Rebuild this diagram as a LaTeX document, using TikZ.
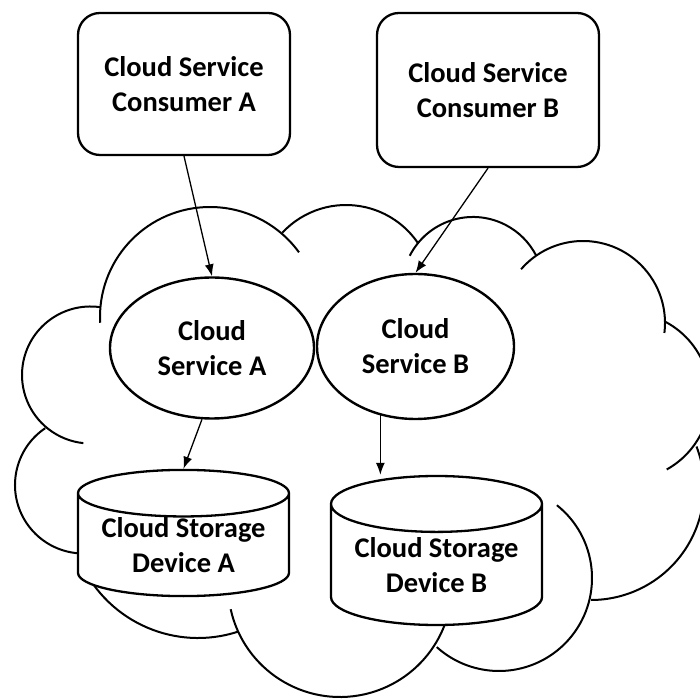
\documentclass[tikz,border=0pt]{standalone}
\usepackage{fontspec}
\setmainfont{Carlito}
\usepackage{tikz}
\usetikzlibrary{shapes.geometric,arrows.meta}
\tikzstyle{consumer} = [draw, fill=white, rectangle, rounded corners=22pt,
    line width=2.3pt, align=center, inner sep=0pt]
\tikzstyle{service} = [draw, fill=white, ellipse, line width=2.4pt,
    align=center, inner sep=0pt]
\tikzstyle{storage} = [draw, fill=white, cylinder, shape border rotate=90,
    line width=2.3pt, align=center, inner sep=0pt, anchor=shape center]
\tikzstyle{bump} = [line width=2pt]
\tikzstyle{link} = [line width=1.3pt, -{Latex[length=12pt,width=9pt]}]

\begin{document}
\begin{tikzpicture}[x=1pt, y=1pt, font=\fontsize{28.5}{35}\selectfont\bfseries]
    \useasboundingbox (0,0) rectangle (700,698);
    % The cloud is drawn first, one arc for each bump
    \draw [bump] (210,381) ++(183:110) arc [start angle=183, end angle=36, radius=110];
    \draw [bump] (346,406) ++(137:87) arc [start angle=137, end angle=34, radius=87];
    \draw [bump] (473,410) ++(153:71) arc [start angle=153, end angle=27, radius=71];
    \draw [bump] (583,375) ++(139:82) arc [start angle=139, end angle=-7, radius=82];
    \draw [bump] (626,302) ++(62:84) arc [start angle=62, end angle=-61, radius=84];
    \draw [bump] (591,211) ++(21:113) arc [start angle=21, end angle=-90, radius=113];
    \draw [bump] (499,120) ++(51.5:93) arc [start angle=51.5, end angle=-132, radius=93];
    \draw [bump] (340,113) ++(192.5:112) arc [start angle=192.5, end angle=345, radius=112];
    \draw [bump] (198,189) ++(205:129) arc [start angle=205, end angle=288, radius=129];
    \draw [bump] (83.5,213) ++(124:68.5) arc [start angle=124, end angle=275, radius=68.5];
    \draw [bump] (90.5,323) ++(82:68.5) arc [start angle=82, end angle=264, radius=68.5];
    % Then the blocks on top of it
    \node [consumer, minimum width=212pt, minimum height=142pt] (consA) at (184,614) {Cloud Service\\Consumer A};
    \node [consumer, minimum width=222pt, minimum height=154pt] (consB) at (488,608) {Cloud Service\\Consumer B};
    \node [service, minimum width=204pt, minimum height=141pt] (svcA) at (212,350) {Cloud\\Service A};
    \node [service, minimum width=197pt, minimum height=145pt] (svcB) at (415.5,351.5) {Cloud\\Service B};
    \node [storage, aspect=0.284, minimum width=211pt, minimum height=120pt] (storA) at (183.5,165) {Cloud Storage\\Device A};
    \node [storage, aspect=0.341, minimum width=211pt, minimum height=149pt] (storB) at (436.5,147.5) {Cloud Storage\\Device B};
    % And the arrows between them
    \draw [link] (consA.south) -- (svcA.north);
    \draw [link] (consB.south) -- (svcB.north);
    \draw [link] (svcA.262) -- (storA.north);
    \draw [link] (svcB.243) -- (svcB.243 |- storB.north);
\end{tikzpicture}
\end{document}
